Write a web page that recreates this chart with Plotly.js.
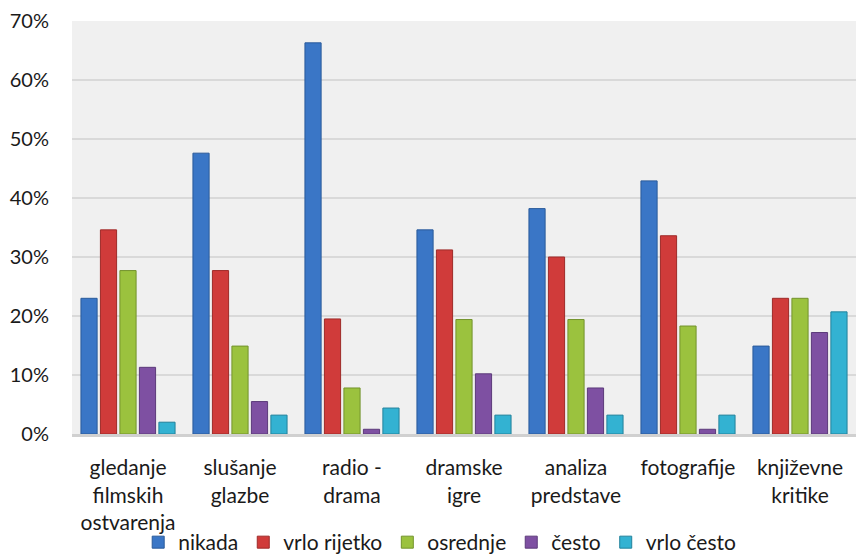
<!DOCTYPE html>
<html>
<head>
<meta charset="utf-8">
<script src="https://cdn.plot.ly/plotly-3.0.1.min.js"></script>
<style>html,body{margin:0;padding:0;background:#fff;}#chart{width:857px;height:557px;}</style>
</head>
<body>
<div id="chart"></div>
<script>
var categories = ["gledanje<br>filmskih<br>ostvarenja", "slušanje<br>glazbe", "radio -<br>drama", "dramske<br>igre", "analiza<br>predstave", "fotografije", "književne<br>kritike"];
var seriesNames = ["nikada", "vrlo rijetko", "osrednje", "često", "vrlo često"];
var nikada      = [23.0, 47.6, 66.3, 34.6, 38.2, 42.9, 14.9];
var vrloRijetko = [34.6, 27.7, 19.5, 31.2, 30.0, 33.6, 23.0];
var osrednje    = [27.7, 14.9, 7.8, 19.4, 19.4, 18.3, 23.0];
var cesto       = [11.3, 5.5, 0.8, 10.2, 7.8, 0.8, 17.2];
var vrloCesto   = [2.0, 3.2, 4.4, 3.2, 3.2, 3.2, 20.7];
var yTicks = [0, 10, 20, 30, 40, 50, 60, 70];

var values = [nikada, vrloRijetko, osrednje, cesto, vrloCesto];
var colors = ["#3A76C6", "#D03B3A", "#9BC23E", "#7E50A2", "#33B2D2"];
var lines  = ["#2A5A9A", "#9E2A28", "#73932C", "#5C3A7A", "#22829C"];

var traces = values.map(function(v, i){
  return {
    type: "bar", name: seriesNames[i], x: categories, y: v,
    marker: {color: colors[i], line: {color: lines[i], width: 1}}
  };
});

var font = "Lato, 'Open Sans', sans-serif";
var layout = {
  width: 857, height: 557,
  margin: {l: 72, r: 1, t: 21, b: 123},
  paper_bgcolor: "#ffffff",
  plot_bgcolor: "#F0F0F0",
  barmode: "group",
  bargap: 0.13,
  bargroupgap: 0.17,
  font: {family: font, size: 21, color: "#1a1a1a"},
  showlegend: true,
  legend: {orientation: "h", x: 0.469, xanchor: "center", yref: "container", y: 0.026, yanchor: "middle",
           bgcolor: "rgba(0,0,0,0)", font: {family: font, size: 21, color: "#1a1a1a"}, tracegroupgap: 0},
  xaxis: {showgrid: false, showline: true, linecolor: "#D0D0D0", linewidth: 3, automargin: false,
          ticks: "", tickfont: {family: font, size: 21}, ticklabelstandoff: 13},
  yaxis: {range: [0, 70], tickvals: yTicks, ticktext: yTicks.map(function(t){return t + "%";}),
          showgrid: true, gridcolor: "#D9D9D9", gridwidth: 2, zeroline: false, showline: false, automargin: false,
          ticks: "", tickfont: {family: font, size: 20}, ticklabelstandoff: 22}
};

Plotly.newPlot("chart", traces, layout, {displayModeBar: false, staticPlot: true});
</script>
</body>
</html>
